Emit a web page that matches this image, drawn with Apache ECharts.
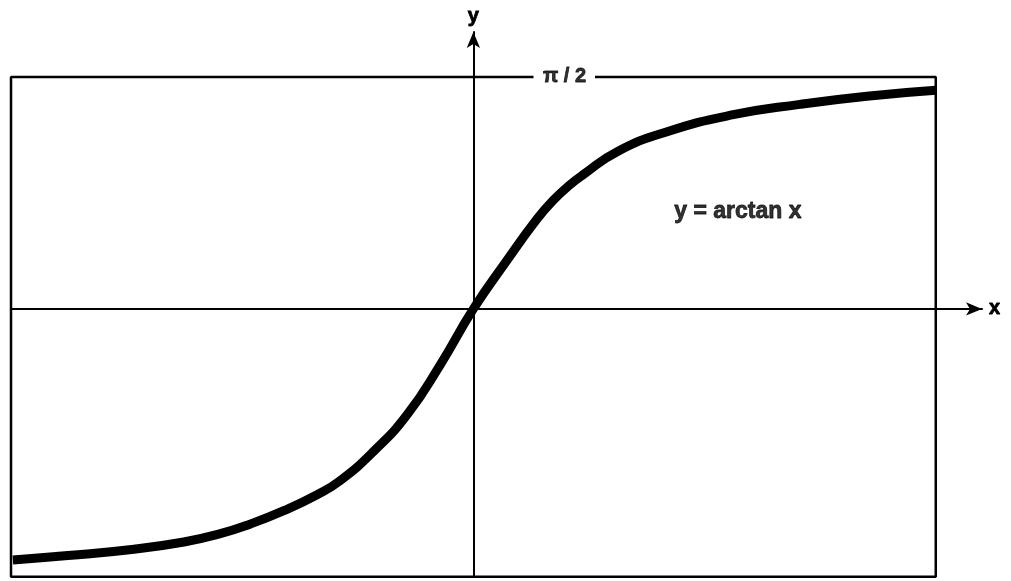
<!DOCTYPE html>
<html>
<head>
<meta charset="utf-8">
<script src="https://cdn.jsdelivr.net/npm/echarts@6/dist/echarts.min.js"></script>
<style>
  html, body { margin: 0; padding: 0; background: #fff; }
  #main { width: 1011px; height: 581px; }
</style>
</head>
<body>
<div id="main"></div>
<script>
// curve y = arctan x
var curveX = [-9.96, -8.77, -7.34, -6.26, -5.53, -4.82, -4.10, -3.37, -2.87, -2.16, -1.43, -0.71, 0, 0.73, 1.38, 1.73, 2.10, 2.38, 3.11, 4.19, 5.62, 7.06, 8.51, 10.0]
var curveY = [-1.70, -1.67, -1.627, -1.578, -1.527, -1.456, -1.366, -1.256, -1.16, -0.965, -0.715, -0.375, 0, 0.33, 0.61, 0.736, 0.843, 0.91, 1.065, 1.20, 1.315, 1.385, 1.44, 1.48]

// frame round the plot, open at the top where the pi/2 label sits
var halfPi = 1.5708
var boxX = [1.30, -10, -10, 10, 10, 2.63]
var boxY = [halfPi, halfPi, -1.814, -1.814, halfPi, halfPi]

var titleText = 'y = arctan x'
var topLabel = 'π / 2'

var curveData = curveX.map(function (x, i) { return [x, curveY[i]] })
var boxData = boxX.map(function (x, i) { return [x, boxY[i]] })

var font = '"Liberation Sans", Arial, sans-serif'
var boldText = {
  color: '#000', fontWeight: 'bold', fontFamily: font,
  textBorderColor: '#000', textBorderWidth: 0.8
}

var myChart = echarts.init(document.getElementById('main'))
var option = {
  backgroundColor: '#fff',
  animation: false,
  grid: { left: 11, right: 29, top: 32, bottom: 4 },
  xAxis: {
    type: 'value', min: -10, max: 11,
    name: 'x', nameLocation: 'end', nameGap: 7,
    nameTextStyle: Object.assign({ fontSize: 20 }, boldText),
    axisLine: { onZero: true, symbol: ['none', 'arrow'], symbolSize: [10, 16], lineStyle: { color: '#000', width: 2 } },
    axisTick: { show: false }, axisLabel: { show: false }, splitLine: { show: false }
  },
  yAxis: {
    type: 'value', min: -1.815, max: 1.875,
    name: 'y', nameLocation: 'end', nameGap: 6,
    nameTextStyle: Object.assign({ fontSize: 20 }, boldText),
    axisLine: { onZero: true, symbol: ['none', 'arrow'], symbolSize: [10, 16], lineStyle: { color: '#000', width: 2 } },
    axisTick: { show: false }, axisLabel: { show: false }, splitLine: { show: false }
  },
  series: [
    {
      type: 'line', data: boxData, clip: false, showSymbol: false, silent: true,
      lineStyle: { color: '#000', width: 2.5 }
    },
    {
      type: 'line', data: curveData, smooth: 0.5, clip: false, showSymbol: false,
      lineStyle: { color: '#000', width: 9 }
    },
    {
      type: 'scatter', symbolSize: 0, silent: true,
      data: [[1.97, halfPi]],
      label: Object.assign({ show: true, position: 'inside', formatter: topLabel, fontSize: 20 }, boldText)
    },
    {
      type: 'scatter', symbolSize: 0, silent: true,
      data: [[5.72, 0.657]],
      label: Object.assign({ show: true, position: 'inside', formatter: titleText, fontSize: 23 }, boldText)
    }
  ]
}
myChart.setOption(option)
</script>
</body>
</html>
